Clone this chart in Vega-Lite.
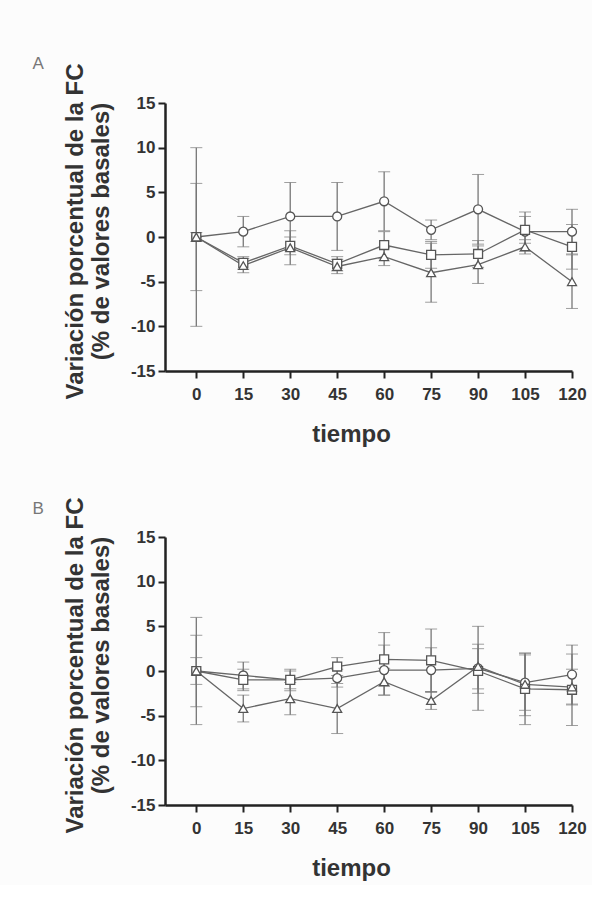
{
  "$schema": "https://vega.github.io/schema/vega-lite/v6.json",
  "background": "#fcfcfc",
  "padding": {"left": 32, "top": 54, "right": 5, "bottom": 5},
  "data": {"values": [
    {"panel":"A","serie":"circulo","t":0,"y":0,"e":10},
    {"panel":"A","serie":"circulo","t":15,"y":0.6,"e":1.7},
    {"panel":"A","serie":"circulo","t":30,"y":2.3,"e":3.8},
    {"panel":"A","serie":"circulo","t":45,"y":2.3,"e":3.8},
    {"panel":"A","serie":"circulo","t":60,"y":4.0,"e":3.3},
    {"panel":"A","serie":"circulo","t":75,"y":0.8,"e":1.1},
    {"panel":"A","serie":"circulo","t":90,"y":3.1,"e":3.9},
    {"panel":"A","serie":"circulo","t":105,"y":0.6,"e":2.2},
    {"panel":"A","serie":"circulo","t":120,"y":0.6,"e":2.5},
    {"panel":"A","serie":"cuadrado","t":0,"y":0,"e":0.5},
    {"panel":"A","serie":"cuadrado","t":15,"y":-2.9,"e":0.7},
    {"panel":"A","serie":"cuadrado","t":30,"y":-1.0,"e":1.0},
    {"panel":"A","serie":"cuadrado","t":45,"y":-3.0,"e":0.8},
    {"panel":"A","serie":"cuadrado","t":60,"y":-0.9,"e":1.5},
    {"panel":"A","serie":"cuadrado","t":75,"y":-2.0,"e":1.5},
    {"panel":"A","serie":"cuadrado","t":90,"y":-1.9,"e":1.5},
    {"panel":"A","serie":"cuadrado","t":105,"y":0.8,"e":1.5},
    {"panel":"A","serie":"cuadrado","t":120,"y":-1.1,"e":2.5},
    {"panel":"A","serie":"triangulo","t":0,"y":0,"e":6},
    {"panel":"A","serie":"triangulo","t":15,"y":-3.2,"e":0.8},
    {"panel":"A","serie":"triangulo","t":30,"y":-1.2,"e":1.9},
    {"panel":"A","serie":"triangulo","t":45,"y":-3.3,"e":0.8},
    {"panel":"A","serie":"triangulo","t":60,"y":-2.2,"e":1.0},
    {"panel":"A","serie":"triangulo","t":75,"y":-4.0,"e":3.3},
    {"panel":"A","serie":"triangulo","t":90,"y":-3.1,"e":2.1},
    {"panel":"A","serie":"triangulo","t":105,"y":-1.1,"e":0.8},
    {"panel":"A","serie":"triangulo","t":120,"y":-5.0,"e":3.0},
    {"panel":"B","serie":"circulo","t":0,"y":0,"e":6},
    {"panel":"B","serie":"circulo","t":15,"y":-0.5,"e":1.5},
    {"panel":"B","serie":"circulo","t":30,"y":-1.0,"e":1.2},
    {"panel":"B","serie":"circulo","t":45,"y":-0.8,"e":1.0},
    {"panel":"B","serie":"circulo","t":60,"y":0.1,"e":2.8},
    {"panel":"B","serie":"circulo","t":75,"y":0.1,"e":2.5},
    {"panel":"B","serie":"circulo","t":90,"y":0.3,"e":4.7},
    {"panel":"B","serie":"circulo","t":105,"y":-1.3,"e":3.1},
    {"panel":"B","serie":"circulo","t":120,"y":-0.4,"e":3.3},
    {"panel":"B","serie":"cuadrado","t":0,"y":0,"e":4},
    {"panel":"B","serie":"cuadrado","t":15,"y":-1.0,"e":1.2},
    {"panel":"B","serie":"cuadrado","t":30,"y":-1.0,"e":1.0},
    {"panel":"B","serie":"cuadrado","t":45,"y":0.5,"e":1.0},
    {"panel":"B","serie":"cuadrado","t":60,"y":1.3,"e":3.0},
    {"panel":"B","serie":"cuadrado","t":75,"y":1.2,"e":3.5},
    {"panel":"B","serie":"cuadrado","t":90,"y":0.0,"e":2.5},
    {"panel":"B","serie":"cuadrado","t":105,"y":-2.0,"e":4.0},
    {"panel":"B","serie":"cuadrado","t":120,"y":-2.1,"e":4.0},
    {"panel":"B","serie":"triangulo","t":0,"y":0,"e":1.5},
    {"panel":"B","serie":"triangulo","t":15,"y":-4.2,"e":1.5},
    {"panel":"B","serie":"triangulo","t":30,"y":-3.1,"e":1.8},
    {"panel":"B","serie":"triangulo","t":45,"y":-4.2,"e":2.8},
    {"panel":"B","serie":"triangulo","t":60,"y":-1.2,"e":1.5},
    {"panel":"B","serie":"triangulo","t":75,"y":-3.3,"e":1.0},
    {"panel":"B","serie":"triangulo","t":90,"y":0.5,"e":2.5},
    {"panel":"B","serie":"triangulo","t":105,"y":-1.5,"e":3.5},
    {"panel":"B","serie":"triangulo","t":120,"y":-1.8,"e":2.0}
  ]},
  "spacing": 50,
  "vconcat": [
    {
      "width": 407, "height": 268,
      "title": {"text": "A", "anchor": "start", "frame": "bounds", "dx": -31, "offset": -10, "fontSize": 17, "fontWeight": "normal", "color": "#777", "font": "Liberation Sans"},
      "transform": [{"filter": "datum.panel === 'A'"}],
      "encoding": {
        "x": {"field": "t", "type": "quantitative", "scale": {"domain": [-10, 120], "nice": false, "zero": false}, "axis": {"values": [0,15,30,45,60,75,90,105,120], "title": "tiempo", "titleX": 186}},
        "y": {"field": "y", "type": "quantitative", "scale": {"domain": [-15, 15], "nice": false}, "axis": {"values": [-15,-10,-5,0,5,10,15], "labelExpr": "'' + datum.value", "title": ["Variación porcentual de la FC", "(% de valores basales)"], "titleY": 128}}
      },
      "layer": [
        {"mark": {"type": "line", "color": "#666", "strokeWidth": 1.3}, "encoding": {"detail": {"field": "serie"}}},
        {"mark": {"type": "errorbar", "ticks": {"size": 12, "color": "#777", "strokeWidth": 1.3}, "rule": {"color": "#777", "strokeWidth": 1.3}}, "encoding": {"yError": {"field": "e"}, "detail": {"field": "serie"}}},
        {"mark": {"type": "point", "filled": true, "fill": "white", "stroke": "#555", "strokeWidth": 1.3, "opacity": 1, "size": 80}, "encoding": {"shape": {"field": "serie", "type": "nominal", "scale": {"domain": ["circulo","cuadrado","triangulo"], "range": ["circle","square","triangle-up"]}, "legend": null}}}
      ]
    },
    {
      "width": 407, "height": 268,
      "title": {"text": "B", "anchor": "start", "frame": "bounds", "dx": -31, "offset": -21, "fontSize": 17, "fontWeight": "normal", "color": "#777", "font": "Liberation Sans"},
      "transform": [{"filter": "datum.panel === 'B'"}],
      "encoding": {
        "x": {"field": "t", "type": "quantitative", "scale": {"domain": [-10, 120], "nice": false, "zero": false}, "axis": {"values": [0,15,30,45,60,75,90,105,120], "title": "tiempo", "titleX": 186}},
        "y": {"field": "y", "type": "quantitative", "scale": {"domain": [-15, 15], "nice": false}, "axis": {"values": [-15,-10,-5,0,5,10,15], "labelExpr": "'' + datum.value", "title": ["Variación porcentual de la FC", "(% de valores basales)"], "titleY": 128}}
      },
      "layer": [
        {"mark": {"type": "line", "color": "#666", "strokeWidth": 1.3}, "encoding": {"detail": {"field": "serie"}}},
        {"mark": {"type": "errorbar", "ticks": {"size": 12, "color": "#777", "strokeWidth": 1.3}, "rule": {"color": "#777", "strokeWidth": 1.3}}, "encoding": {"yError": {"field": "e"}, "detail": {"field": "serie"}}},
        {"mark": {"type": "point", "filled": true, "fill": "white", "stroke": "#555", "strokeWidth": 1.3, "opacity": 1, "size": 80}, "encoding": {"shape": {"field": "serie", "type": "nominal", "scale": {"domain": ["circulo","cuadrado","triangulo"], "range": ["circle","square","triangle-up"]}, "legend": null}}}
      ]
    }
  ],
  "config": {
    "view": {"stroke": null},
    "font": "Liberation Sans",
    "axis": {
      "grid": false,
      "domainColor": "#222", "domainWidth": 2.5,
      "tickColor": "#222", "tickWidth": 2, "tickSize": 7,
      "labelFont": "Liberation Sans", "labelFontSize": 17, "labelFontWeight": "bold", "labelColor": "#333",
      "labelOverlap": false, "labelFlush": false,
      "titleFont": "Liberation Sans", "titleFontSize": 24, "titleFontWeight": "bold", "titleColor": "#333"
    },
    "axisX": {"labelPadding": 8, "titlePadding": 20},
    "axisY": {"labelPadding": 3, "titlePadding": 17, "titleLineHeight": 26}
  }
}
